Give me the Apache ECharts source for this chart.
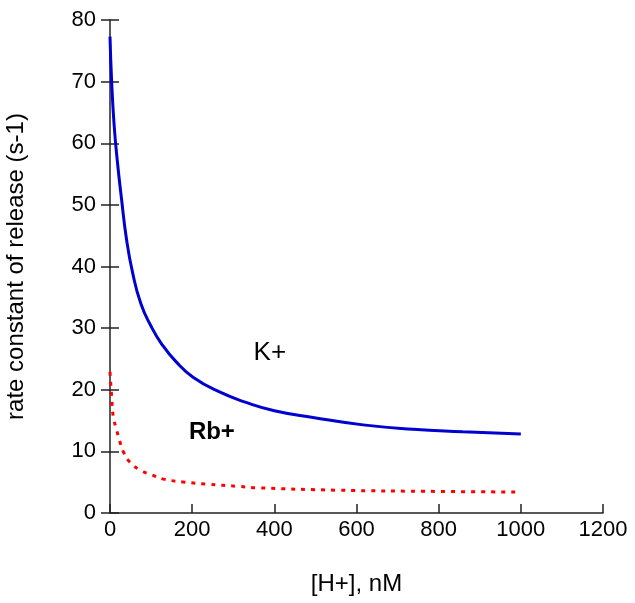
<!DOCTYPE html>
<html>
<head>
<meta charset="utf-8">
<script src="https://cdn.jsdelivr.net/npm/echarts@6/dist/echarts.min.js"></script>
<style>html,body{margin:0;padding:0;background:#fff;}#c{width:635px;height:603px;}</style>
</head>
<body>
<div id="c"></div>
<script>
var kX = [0,4,10,18,28,40,55,75,100,125,160,203,268,333,400,494,616,738,859,1000];
var kY = [77.3,70,63,57,51,44.5,39,34,30.3,27.5,24.6,22.0,19.6,17.9,16.6,15.5,14.3,13.6,13.2,12.8];
var rbX = [0,4,8,16,23,32,49,75,101,130,182,235,316,357,552,800,1000];
var rbY = [22.9,18.9,15.6,13.5,11.8,10,8.2,6.9,6.2,5.5,5.0,4.7,4.3,4.1,3.7,3.5,3.4];
var xTicks = [0,200,400,600,800,1000,1200];
var yTicks = [0,10,20,30,40,50,60,70,80];
var labelNames = ['K+','Rb+'];
var labelX = [389,248];
var labelY = [26,13.1];
var labelBold = [false,true];

function zip(a,b){return a.map(function(v,i){return [v,b[i]];});}
var FONT = 'Liberation Sans, Arial, sans-serif';
var axisLineStyle = {color:'#222', width:1.5};

var chart = echarts.init(document.getElementById('c'), null, {renderer:'canvas'});
var yBase = {
  type:'value', min:yTicks[0], max:yTicks[yTicks.length-1], interval:10,
  splitLine:{show:false}
};
chart.setOption({
  animation:false,
  backgroundColor:'#fff',
  grid:{left:110, right:32, top:20, bottom:90, containLabel:false, outerBoundsMode:'none'},
  xAxis:{
    type:'value', min:xTicks[0], max:xTicks[xTicks.length-1], interval:200,
    name:'[H+], nM', nameLocation:'middle', nameGap:59,
    nameTextStyle:{fontFamily:FONT, fontSize:24, color:'#000'},
    axisLine:{lineStyle:axisLineStyle},
    axisTick:{inside:true, length:9, lineStyle:axisLineStyle},
    axisLabel:{fontFamily:FONT, fontSize:22, color:'#000', margin:6,
      formatter:function(v){return String(v);}},
    splitLine:{show:false}
  },
  yAxis:[
    Object.assign({}, yBase, {
      name:'rate constant of release (s-1)', nameLocation:'middle', nameGap:82,
      nameTextStyle:{fontFamily:FONT, fontSize:24, color:'#000'},
      axisLine:{lineStyle:axisLineStyle},
      axisTick:{inside:false, length:9, lineStyle:axisLineStyle},
      axisLabel:{fontFamily:FONT, fontSize:22, color:'#000', margin:14}
    }),
    Object.assign({}, yBase, {
      position:'left',
      axisLine:{show:false},
      axisTick:{inside:true, length:9, lineStyle:axisLineStyle},
      axisLabel:{show:false}
    })
  ],
  series:[
    {
      type:'line', name:'K+', data:zip(kX,kY), showSymbol:false, smooth:0.5,
      lineStyle:{color:'#0000d0', width:3}
    },
    {
      type:'line', name:'Rb+', data:zip(rbX,rbY), showSymbol:false, smooth:0.4,
      lineStyle:{color:'#ff0000', width:3, type:[4,6]}
    }
  ]
});
chart.setOption({
  graphic: labelNames.map(function(n,i){
    var p = chart.convertToPixel({gridIndex:0}, [labelX[i], labelY[i]]);
    return {type:'text', x:p[0], y:p[1], z:10,
      style:{text:n, fill:'#000', align:'center', verticalAlign:'middle',
        font:(labelBold[i]?'bold 24px ':'26px ') + FONT}};
  })
});
</script>
</body>
</html>
